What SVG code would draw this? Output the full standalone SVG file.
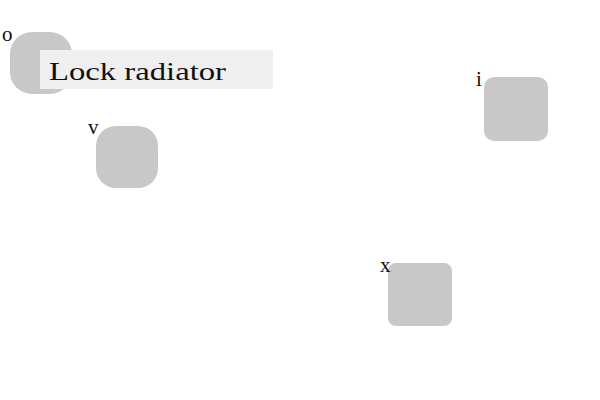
<svg xmlns="http://www.w3.org/2000/svg" width="600" height="400" viewBox="0 0 600 400">
<style>
.n{fill:#c8c8c8}
.t{font-family:"Liberation Serif","DejaVu Serif",serif;fill:#111}
</style>
<rect width="600" height="400" fill="#fff"/>
<g id="node-o">
<rect class="n" x="10" y="32" width="62" height="62" rx="22"/>
<text class="t" x="2" y="41" font-size="21">o</text>
</g>
<g id="label-lock">
<rect x="40" y="50" width="233" height="39" fill="#efefef"/>
<text class="t" x="49" y="80" font-size="26" textLength="177" lengthAdjust="spacingAndGlyphs">Lock radiator</text>
</g>
<g id="node-v">
<rect class="n" x="96" y="126" width="62" height="62" rx="20"/>
<text class="t" x="88" y="134" font-size="21">v</text>
</g>
<g id="node-i">
<rect class="n" x="484" y="77" width="64" height="64" rx="10"/>
<text class="t" x="476" y="86" font-size="21">i</text>
</g>
<g id="node-x">
<rect class="n" x="388" y="263" width="64" height="63" rx="8"/>
<text class="t" x="380" y="272" font-size="21">x</text>
</g>
<g id="connectors"></g>
</svg>
